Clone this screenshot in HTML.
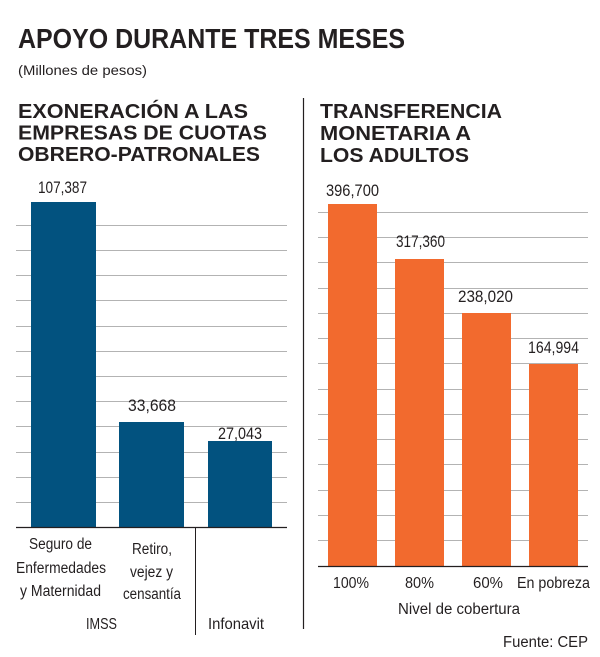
<!DOCTYPE html>
<html><head><meta charset="utf-8"><style>
html,body{margin:0;padding:0;background:#fff;}
svg{display:block;}
text{font-family:"Liberation Sans",sans-serif;fill:#231f20;}
.t{font-weight:bold;}
</style></head><body>
<svg width="600" height="657" viewBox="0 0 600 657" xmlns="http://www.w3.org/2000/svg">
<rect width="600" height="657" fill="#fff"/>
<text class="t" x="18" y="48" font-size="28" textLength="387" lengthAdjust="spacingAndGlyphs">APOYO DURANTE TRES MESES</text>
<text x="18" y="75" font-size="13.5" textLength="129" lengthAdjust="spacingAndGlyphs">(Millones de pesos)</text>

<text class="t" x="18" y="118" font-size="20.5" textLength="230" lengthAdjust="spacingAndGlyphs">EXONERACIÓN A LAS</text>
<text class="t" x="18" y="139.5" font-size="20.5" textLength="249" lengthAdjust="spacingAndGlyphs">EMPRESAS DE CUOTAS</text>
<text class="t" x="18" y="161" font-size="20.5" textLength="242" lengthAdjust="spacingAndGlyphs">OBRERO-PATRONALES</text>

<text class="t" x="320" y="118" font-size="20.5" textLength="182" lengthAdjust="spacingAndGlyphs">TRANSFERENCIA</text>
<text class="t" x="320" y="140" font-size="20.5" textLength="151" lengthAdjust="spacingAndGlyphs">MONETARIA A</text>
<text class="t" x="320" y="162" font-size="20.5" textLength="149" lengthAdjust="spacingAndGlyphs">LOS ADULTOS</text>

<!-- divider -->
<line x1="303.5" y1="98" x2="303.5" y2="629" stroke="#231f20" stroke-width="1.2"/>

<!-- left grid -->
<g stroke="#b3b3b3" stroke-width="1">
<line x1="16" x2="287" y1="225.5" y2="225.5"/>
<line x1="16" x2="287" y1="250.5" y2="250.5"/>
<line x1="16" x2="287" y1="275.5" y2="275.5"/>
<line x1="16" x2="287" y1="300.5" y2="300.5"/>
<line x1="16" x2="287" y1="326.5" y2="326.5"/>
<line x1="16" x2="287" y1="351.5" y2="351.5"/>
<line x1="16" x2="287" y1="376.5" y2="376.5"/>
<line x1="16" x2="287" y1="401.5" y2="401.5"/>
<line x1="16" x2="287" y1="426.5" y2="426.5"/>
<line x1="16" x2="287" y1="452.5" y2="452.5"/>
<line x1="16" x2="287" y1="477.5" y2="477.5"/>
<line x1="16" x2="287" y1="502.5" y2="502.5"/>
</g>
<g fill="#02527f">
<rect x="31" y="202" width="65" height="325"/>
<rect x="119" y="422" width="65" height="105"/>
<rect x="208" y="441" width="64" height="86"/>
</g>
<line x1="16" x2="287" y1="527.5" y2="527.5" stroke="#231f20" stroke-width="1.2"/>
<line x1="195.5" y1="527" x2="195.5" y2="635" stroke="#231f20" stroke-width="1"/>

<text x="38" y="193" font-size="17" textLength="49" lengthAdjust="spacingAndGlyphs">107,387</text>
<text x="128" y="411" font-size="17" textLength="48" lengthAdjust="spacingAndGlyphs">33,668</text>
<text x="218" y="439" font-size="17" textLength="44" lengthAdjust="spacingAndGlyphs">27,043</text>

<text x="29" y="549" font-size="15.5" textLength="63" lengthAdjust="spacingAndGlyphs">Seguro de</text>
<text x="16" y="573" font-size="15.5" textLength="90" lengthAdjust="spacingAndGlyphs">Enfermedades</text>
<text x="20" y="596" font-size="15.5" textLength="81" lengthAdjust="spacingAndGlyphs">y Maternidad</text>
<text x="132" y="554" font-size="15.5" textLength="40" lengthAdjust="spacingAndGlyphs">Retiro,</text>
<text x="130" y="577" font-size="15.5" textLength="43" lengthAdjust="spacingAndGlyphs">vejez y</text>
<text x="123" y="599" font-size="15.5" textLength="58" lengthAdjust="spacingAndGlyphs">censantía</text>
<text x="86" y="629" font-size="16" textLength="31" lengthAdjust="spacingAndGlyphs">IMSS</text>
<text x="208" y="629" font-size="16" textLength="56" lengthAdjust="spacingAndGlyphs">Infonavit</text>

<!-- right grid -->
<g stroke="#b3b3b3" stroke-width="1">
<line x1="318" x2="588" y1="212.5" y2="212.5"/>
<line x1="318" x2="588" y1="237.5" y2="237.5"/>
<line x1="318" x2="588" y1="262.5" y2="262.5"/>
<line x1="318" x2="588" y1="288.5" y2="288.5"/>
<line x1="318" x2="588" y1="313.5" y2="313.5"/>
<line x1="318" x2="588" y1="338.5" y2="338.5"/>
<line x1="318" x2="588" y1="363.5" y2="363.5"/>
<line x1="318" x2="588" y1="389.5" y2="389.5"/>
<line x1="318" x2="588" y1="414.5" y2="414.5"/>
<line x1="318" x2="588" y1="439.5" y2="439.5"/>
<line x1="318" x2="588" y1="464.5" y2="464.5"/>
<line x1="318" x2="588" y1="490.5" y2="490.5"/>
<line x1="318" x2="588" y1="515.5" y2="515.5"/>
<line x1="318" x2="588" y1="540.5" y2="540.5"/>
</g>
<g fill="#f26a2e">
<rect x="328" y="204" width="49" height="362"/>
<rect x="395" y="259" width="49" height="307"/>
<rect x="462" y="313" width="49" height="253"/>
<rect x="529" y="364" width="49" height="202"/>
</g>
<line x1="318" x2="588" y1="566.5" y2="566.5" stroke="#231f20" stroke-width="1.2"/>

<text x="326" y="196" font-size="17" textLength="53" lengthAdjust="spacingAndGlyphs">396,700</text>
<text x="396" y="247" font-size="17" textLength="49" lengthAdjust="spacingAndGlyphs">317,360</text>
<text x="458" y="302" font-size="17" textLength="55" lengthAdjust="spacingAndGlyphs">238,020</text>
<text x="528" y="353" font-size="17" textLength="51" lengthAdjust="spacingAndGlyphs">164,994</text>

<text x="333" y="588" font-size="15.5" textLength="36" lengthAdjust="spacingAndGlyphs">100%</text>
<text x="405" y="588" font-size="15.5" textLength="29" lengthAdjust="spacingAndGlyphs">80%</text>
<text x="473" y="588" font-size="15.5" textLength="30" lengthAdjust="spacingAndGlyphs">60%</text>
<text x="517" y="588" font-size="15.5" textLength="73" lengthAdjust="spacingAndGlyphs">En pobreza</text>
<text x="398" y="614" font-size="15.5" textLength="122" lengthAdjust="spacingAndGlyphs">Nivel de cobertura</text>
<text x="503" y="647" font-size="15.5" textLength="85" lengthAdjust="spacingAndGlyphs">Fuente: CEP</text>
</svg>
</body></html>
